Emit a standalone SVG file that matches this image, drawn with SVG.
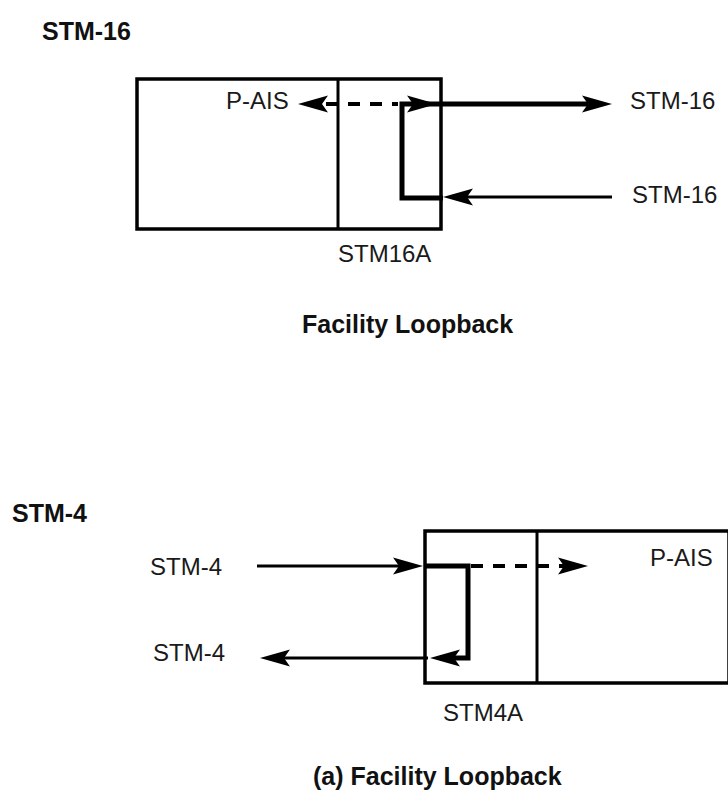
<svg xmlns="http://www.w3.org/2000/svg" width="728" height="790" viewBox="0 0 728 790">
<style>
.t{font-family:"Liberation Sans",Arial,sans-serif;font-size:24px;fill:#1a1a1a}
.b{font-family:"Liberation Sans",Arial,sans-serif;font-size:25px;font-weight:bold;fill:#111}
.box{fill:none;stroke:#000;stroke-width:3.5}
.div{stroke:#000;stroke-width:3}
.thin{fill:none;stroke:#000;stroke-width:3}
.thick{fill:none;stroke:#000;stroke-width:5;stroke-linejoin:miter}
.dash{fill:none;stroke:#000;stroke-width:4;stroke-dasharray:12 10}
</style>
<defs>
<path id="ah" d="M0,0 L-30,-8.5 L-24,0 L-30,8.5 Z" fill="#000"/>
</defs>
<rect width="728" height="790" fill="#fff"/>

<g id="title-top"><text class="b" x="42" y="40">STM-16</text></g>

<g id="stm16a">
<rect class="box" x="137" y="79" width="304" height="150"/>
<line class="div" x1="338" y1="79" x2="338" y2="229"/>
<text class="t" x="226" y="109">P-AIS</text>
<text class="t" x="338" y="262">STM16A</text>
</g>

<g id="port-top-out"><text class="t" x="630" y="109">STM-16</text></g>
<g id="port-top-in"><text class="t" x="632" y="203">STM-16</text></g>
<g id="caption-top"><text class="b" x="302" y="333">Facility Loopback</text></g>

<g id="title-bottom"><text class="b" x="12" y="522">STM-4</text></g>

<g id="stm4a">
<rect class="box" x="425" y="531" width="304" height="152"/>
<line class="div" x1="537" y1="531" x2="537" y2="683"/>
<text class="t" x="650" y="566">P-AIS</text>
<text class="t" x="443" y="721">STM4A</text>
</g>

<g id="port-bot-in"><text class="t" x="150" y="575">STM-4</text></g>
<g id="port-bot-out"><text class="t" x="153" y="661">STM-4</text></g>
<g id="caption-bottom"><text class="b" x="313" y="785">(a) Facility Loopback</text></g>

<g id="connectors">
<!-- top -->
<line class="dash" x1="326" y1="104" x2="398" y2="104"/>
<use href="#ah" transform="translate(298,104) rotate(180)"/>
<path class="thick" d="M443,198 L402,198 L402,104 L590,104"/>
<use href="#ah" transform="translate(437,104)"/>
<use href="#ah" transform="translate(612,104)"/>
<line class="thin" x1="612" y1="197" x2="450" y2="197"/>
<use href="#ah" transform="translate(443,197) rotate(180)"/>
<!-- bottom -->
<line class="thin" x1="257" y1="566" x2="405" y2="566"/>
<use href="#ah" transform="translate(423,566)"/>
<path class="thick" d="M425,566 L468,566 L468,658 L440,658"/>
<use href="#ah" transform="translate(430,658) rotate(180)"/>
<line class="thin" x1="428" y1="658" x2="280" y2="658"/>
<use href="#ah" transform="translate(260,658) rotate(180)"/>
<line class="dash" x1="471" y1="566" x2="565" y2="566"/>
<use href="#ah" transform="translate(588,566)"/>
</g>
</svg>
